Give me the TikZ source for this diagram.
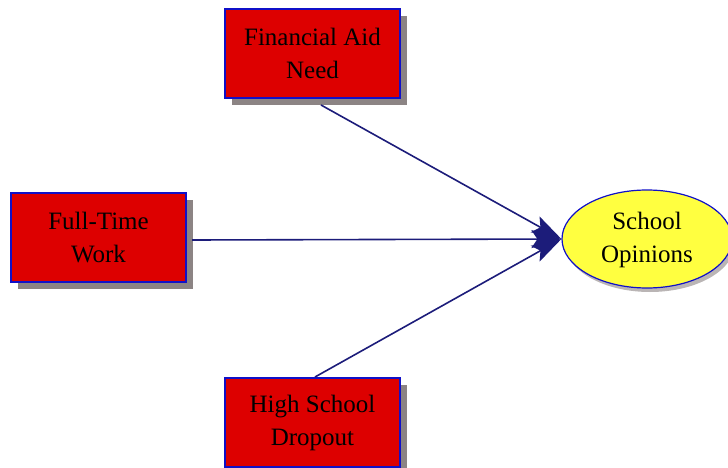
\documentclass[tikz,border=0pt]{standalone}
\usepackage{fontspec}
\setmainfont{Liberation Serif}
\usetikzlibrary{arrows.meta,shadows,shapes.geometric}
\definecolor{boxred}{HTML}{DD0000}
\definecolor{boxblue}{HTML}{1010C8}
\definecolor{linenavy}{HTML}{1C1C7A}
\definecolor{ellyellow}{HTML}{FFFF40}
\definecolor{shadowgray}{HTML}{8C8484}
\tikzset{
  varbox/.style={draw=boxblue, line width=1.5pt, fill=boxred, minimum width=175pt, minimum height=89pt,
    inner sep=0pt, align=center, font=\fontsize{25}{33}\selectfont,
    drop shadow={shadow xshift=7pt, shadow yshift=-7pt, fill=shadowgray, opacity=1}},
  outcome/.style={draw=boxblue, line width=1.2pt, fill=ellyellow, ellipse, minimum width=170pt, minimum height=98pt,
    inner sep=0pt, align=center, font=\fontsize{25}{33}\selectfont,
    drop shadow={shadow xshift=3pt, shadow yshift=-4pt, fill=shadowgray, opacity=0.6}},
  path/.style={draw=linenavy, line width=1.6pt, -{Stealth[length=30pt,width=18pt,inset=6pt]}}
}
\begin{document}
\begin{tikzpicture}[x=1pt,y=-1pt]
\useasboundingbox (0,0) rectangle (728,468);
\node[varbox] (fin) at (312.5,53.5) {Financial Aid\\Need};
\node[varbox] (ftw) at (98.5,237.5) {Full-Time\\Work};
\node[varbox] (hsd) at (312.5,422.5) {High School\\Dropout};
\node[outcome] (so) at (647,239) {\raisebox{-4pt}{\begin{tabular}{@{}c@{}}School\\[0pt]Opinions\end{tabular}}};
\coordinate (fs) at (321,105);
\coordinate (ts) at (192,240);
\coordinate (hs) at (315,377);
\draw[path] (fs) -- (so.west);
\draw[path] (ts) -- (so.west);
\draw[path] (hs) -- (so.west);
\end{tikzpicture}
\end{document}
